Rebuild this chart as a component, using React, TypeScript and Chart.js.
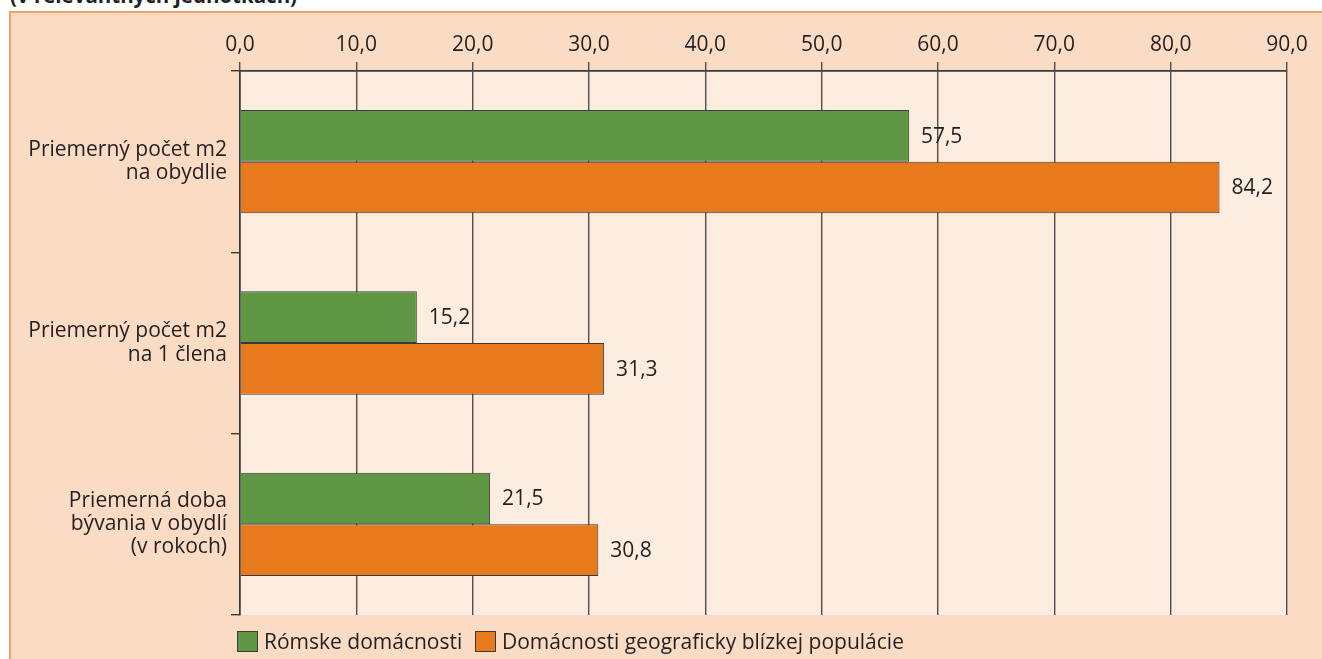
import React, { useEffect, useRef } from "react";
import { Chart, registerables } from "chart.js";
Chart.register(...registerables);

const categories: string[][] = [
  ["Priemerný počet m2", "na obydlie"],
  ["Priemerný počet m2", "na 1 člena"],
  ["Priemerná doba", "bývania v obydlí", "(v rokoch)"],
];
const romaValues = [57.5, 15.2, 21.5];
const majorityValues = [84.2, 31.3, 30.8];
const seriesNames = ["Rómske domácnosti", "Domácnosti geograficky blízkej populácie"];
const xMin = 0;
const xMax = 90;
const xStep = 10;
const titleText = "(v relevantných jednotkách)";

const FONT = '"Open Sans", "Noto Sans", sans-serif';
const FS = 21;
const TEXT = "#231f20";
const GREEN = "#5f9745";
const ORANGE = "#e87a1e";
const EDGE = "#3a3a3a";
const GRID = "#4f4f4f";
const OUTER = "#fadcc4";
const PLOT = "#fdece0";

const fmt = (v: number) => v.toFixed(1).replace(".", ",");

const plotBg = {
  id: "plotBg",
  beforeDraw(chart: any) {
    const { ctx, chartArea: a } = chart;
    ctx.save();
    ctx.fillStyle = PLOT;
    ctx.fillRect(a.left, a.top, a.right - a.left, a.bottom - a.top);
    ctx.restore();
  },
};

const valueLabels = {
  id: "valueLabels",
  afterDatasetsDraw(chart: any) {
    const { ctx } = chart;
    ctx.save();
    ctx.font = `${FS}px ${FONT}`;
    ctx.fillStyle = TEXT;
    ctx.textBaseline = "middle";
    ctx.textAlign = "left";
    chart.data.datasets.forEach((ds: any, i: number) => {
      const meta = chart.getDatasetMeta(i);
      meta.data.forEach((el: any, j: number) => {
        ctx.fillText(fmt(ds.data[j]), el.x + 12, el.y + 1);
      });
    });
    ctx.restore();
  },
};

export default function App() {
  const ref = useRef<HTMLCanvasElement>(null);
  useEffect(() => {
    if (!ref.current) return;
    const chart = new Chart(ref.current, {
      type: "bar",
      data: {
        labels: categories as any,
        datasets: [
          {
            label: seriesNames[0],
            data: romaValues,
            backgroundColor: GREEN,
            borderColor: EDGE,
            borderWidth: 1,
            categoryPercentage: 0.57,
            barPercentage: 1,
          },
          {
            label: seriesNames[1],
            data: majorityValues,
            backgroundColor: ORANGE,
            borderColor: EDGE,
            borderWidth: 1,
            categoryPercentage: 0.57,
            barPercentage: 1,
          },
        ],
      },
      options: {
        indexAxis: "y",
        animation: false,
        responsive: false,
        maintainAspectRatio: false,
        layout: { padding: { left: 0, right: 35, top: 0, bottom: 44 } },
        plugins: { legend: { display: false }, tooltip: { enabled: false } },
        scales: {
          x: {
            position: "top",
            min: xMin,
            max: xMax,
            ticks: {
              stepSize: xStep,
              callback: (v: any) => fmt(Number(v)),
              color: TEXT,
              font: { family: FONT, size: FS },
              padding: 4,
            },
            grid: { color: GRID, lineWidth: 1.4, tickLength: 9, tickColor: GRID },
            border: { display: true, color: EDGE, width: 1.4 },
            afterFit(s: any) {
              s.height = 71;
            },
          },
          y: {
            ticks: {
              color: TEXT,
              font: { family: FONT, size: FS, lineHeight: 1.1 },
              padding: 4,
            },
            grid: {
              color: (c: any) => (c.index === 0 || c.index === categories.length ? EDGE : "rgba(0,0,0,0)"),
              lineWidth: 1.4,
              tickLength: 9,
              tickColor: EDGE,
              drawOnChartArea: true,
            },
            border: { display: true, color: EDGE, width: 1.6 },
            afterFit(s: any) {
              s.width = 240;
            },
          },
        },
      },
      plugins: [plotBg, valueLabels],
    } as any);
    return () => chart.destroy();
  }, []);

  const legendItem = (color: string, label: string, left: number) => (
    <div style={{ position: "absolute", left, top: 628, display: "flex", alignItems: "center", whiteSpace: "nowrap" }}>
      <span style={{ display: "inline-block", width: 19, height: 19, background: color, border: `1px solid ${EDGE}`, marginRight: 6 }} />
      <span style={{ fontFamily: FONT, fontSize: FS, color: TEXT, lineHeight: "26px" }}>{label}</span>
    </div>
  );

  return (
    <div style={{ position: "fixed", left: 0, top: 0, width: 1322, height: 659, overflow: "hidden", background: "#ffffff" }}>
      <div
        style={{
          position: "absolute",
          left: 10,
          top: -19,
          fontFamily: FONT,
          fontWeight: 700,
          fontSize: 20.5,
          color: TEXT,
          whiteSpace: "nowrap",
        }}
      >
        {titleText}
      </div>
      <div
        style={{
          position: "absolute",
          left: 9,
          top: 11,
          width: 1313,
          height: 648,
          boxSizing: "border-box",
          background: OUTER,
          borderLeft: "2px solid #f4a062",
          borderTop: "2px solid #f4a062",
        }}
      />
      <canvas ref={ref} width={1322} height={659} style={{ position: "absolute", left: 0, top: 0 }} />
      {legendItem(GREEN, seriesNames[0], 237)}
      {legendItem(ORANGE, seriesNames[1], 475)}
    </div>
  );
}
